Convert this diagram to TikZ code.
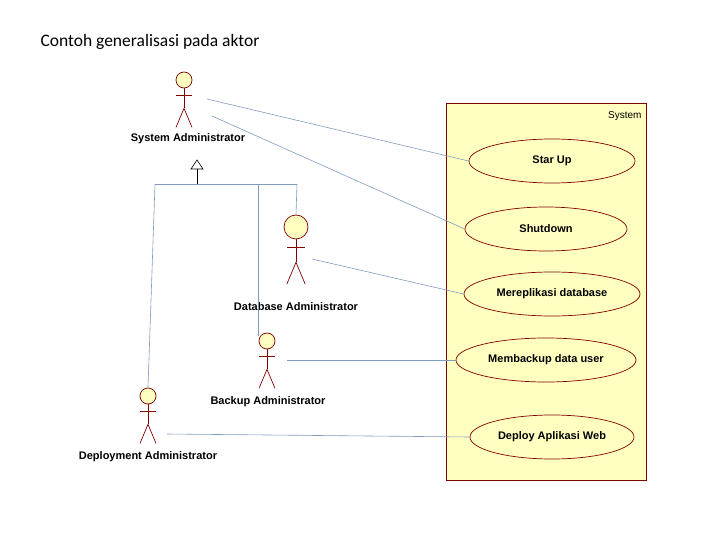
\documentclass[tikz,border=0pt]{standalone}
\usepackage{fontspec}
\setmainfont{Liberation Sans}
\newfontfamily\titlefont{Carlito}
\usetikzlibrary{shapes.geometric,calc}
\definecolor{uyel}{HTML}{FFFFC0}
\definecolor{ured}{HTML}{800000}
\definecolor{ublue}{HTML}{7F9CC0}
\newcommand{\myactor}[5]{% name, x, headcy, r, scale
  \node[circle,draw=ured,fill=uyel,line width=0.7pt,minimum size=#4*2pt,inner sep=0pt] (#1) at (#2,#3) {};
  \draw[act] (#1.south) -- ++(0,#5*20) coordinate (#1hip);
  \draw[act] ($(#1.south)+(-#5*8,#5*7)$) -- ++(#5*16,0);
  \draw[act] ($(#1hip)+(-#5*8,#5*19)$) -- (#1hip) -- ++(#5*8,#5*19);
}
\begin{document}
\begin{tikzpicture}[x=1pt,y=-1pt,
  lbl/.style={font=\fontsize{11}{12}\selectfont\bfseries},
  uc/.style={ellipse,draw=ured,fill=uyel,line width=0.7pt,font=\fontsize{11}{12}\selectfont\bfseries,inner sep=0pt},
  assoc/.style={draw=ublue,line width=0.6pt},
  act/.style={draw=ured,line width=0.7pt}]
\useasboundingbox (0,0) rectangle (720,540);
\node[anchor=west,font=\titlefont\fontsize{17.5}{20}\selectfont] (title) at (37,42) {Contoh generalisasi pada aktor};
% system box
\node[draw=ured,fill=uyel,line width=0.7pt,minimum width=200pt,minimum height=377pt,anchor=north west] (sys) at (446,103) {};
\node[anchor=north east,font=\fontsize{10}{11}\selectfont] (syslbl) at (645,108) {System};
% use cases
\node[uc,minimum width=166pt,minimum height=44pt] (u1) at (552,161) {Star Up};
\node[uc,minimum width=162pt,minimum height=44pt] (u2) at (546,229) {Shutdown};
\node[uc,minimum width=176pt,minimum height=44pt] (u3) at (552,294) {Mereplikasi database};
\node[uc,minimum width=180pt,minimum height=44pt] (u4) at (546,360) {Membackup data user};
\node[uc,minimum width=164pt,minimum height=44pt] (u5) at (552,437) {Deploy Aplikasi Web};
% actors
\myactor{a1}{184}{80}{8}{1}
\myactor{a2}{296}{227}{12}{1.15}
\myactor{a3}{267}{341}{8}{1}
\myactor{a4}{148}{396}{8}{1}
\node[lbl] (l1) at (188,139) {System Administrator};
\node[lbl] (l2) at (296,307) {Database Administrator};
\node[lbl] (l3) at (268,402) {Backup Administrator};
\node[lbl] (l4) at (148,457) {Deployment Administrator};
% generalization
\coordinate (gtip) at (197,160);
\coordinate (gj) at (197,184);
\draw[line width=0.6pt,fill=white] (gtip) -- (191,169) -- (203,169) -- cycle;
\draw[line width=0.6pt] (197,169) -- (gj);
\draw[assoc] (155,184) -- (297,184);
\draw[assoc] (155,184) -- (a4.north);
\draw[assoc] (258,184) -- (258,336);
\draw[assoc] (297,184) -- (a2.north);
% associations
\coordinate (s1) at (207,99);
\coordinate (s2) at (212,116);
\coordinate (s3) at (312,259);
\coordinate (s4) at (287,360);
\coordinate (s5) at (167,434);
\draw[assoc] (s1) -- (u1.west);
\draw[assoc] (s2) -- (u2.west);
\draw[assoc] (s3) -- (u3.west);
\draw[assoc] (s4) -- (u4.west);
\draw[assoc] (s5) -- (u5.west);
\end{tikzpicture}
\end{document}
